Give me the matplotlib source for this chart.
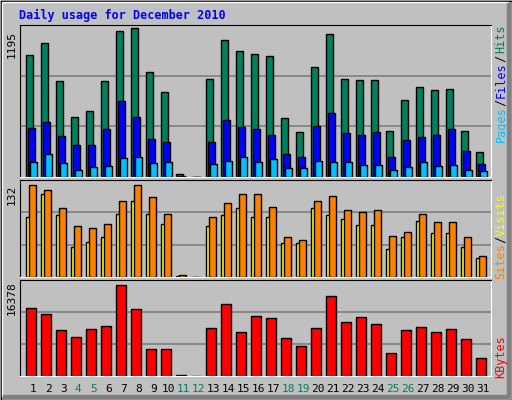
import matplotlib
matplotlib.use("Agg")
import matplotlib.pyplot as plt
from matplotlib.patches import Rectangle

days = list(range(1, 32))
hits = [976,1073,773,481,530,773,1171,1195,846,684,27,0,790,1098,1009,984,968,473,360,879,1147,790,781,781,368,619,725,700,708,368,197]
files = [392,441,327,254,254,384,611,481,303,279,11,0,279,457,400,384,335,181,157,408,514,352,335,360,157,295,319,335,384,206,108]
pages = [124,181,116,59,84,92,149,157,116,124,0,0,108,132,157,124,141,76,76,132,124,124,100,100,59,84,124,92,100,59,51]
visits = [131,125,99,73,70,76,109,132,115,90,3,0,86,106,118,119,100,57,53,109,116,96,93,96,59,65,90,79,79,57,30]
sites = [86,119,89,43,50,57,90,109,90,76,1,0,73,89,99,86,86,49,49,98,89,83,75,75,40,57,80,63,63,43,27]
kbytes = [12254,11178,8309,7053,8488,9026,16378,12074,4901,4901,239,0,8667,12971,7950,10819,10460,6874,5439,8667,14405,9743,10640,9384,4184,8309,8846,7950,8488,6695,3288]
weekends = [4,5,11,12,18,19,25,26]

W, H = 512, 400
fig = plt.figure(figsize=(W/100, H/100), dpi=100)
fig.patch.set_facecolor("#c0c0c0")
bg = fig.add_axes([0, 0, 1, 1]); bg.set_xlim(0, W); bg.set_ylim(H, 0); bg.axis("off")
bg.add_patch(Rectangle((0.5, 0.5), W-1, H-1, fill=False, ec="black", lw=1))
bg.add_patch(Rectangle((2, 2), W-6, H-6, fill=False, ec="white", lw=1))
bg.add_patch(Rectangle((W-5, 3), 3, H-6, color="#808080"))
bg.add_patch(Rectangle((3, H-5), W-6, 3, color="#808080"))

mono = "DejaVu Sans Mono"
fig.text(19/W, 1-15/H, "Daily usage for December 2010", color="#0000ff", family=mono,
         weight="bold", fontsize=8.5, va="center")

def panel(top, bot):
    ax = fig.add_axes([20/W, 1-bot/H, 471/W, (bot-top)/H])
    ax.set_facecolor("#c0c0c0")
    ax.set_xlim(0.12, 31.52)
    for s in ax.spines.values():
        s.set_color("black")
    ax.spines["bottom"].set_color("white"); ax.spines["right"].set_color("white")
    ax.set_xticks([]); ax.set_yticks([])
    return ax

def grid(ax, top):
    ax.set_ylim(0, top)
    for f in (1/3, 2/3):
        ax.axhline(top*f, color="#808080", lw=1.2, zorder=0)

kw = dict(align="edge", edgecolor="black", linewidth=1, zorder=2)
ax1 = panel(25, 177)
grid(ax1, 1195*150/147)
x = [d-0.5 for d in days]
ax1.bar(x, hits, width=0.47, color="#00805c", **kw)
ax1.bar([v+0.13 for v in x], files, width=0.5, color="#0000ff", **kw)
ax1.bar([v+0.27 for v in x], pages, width=0.47, color="#00c0ff", **kw)

ax2 = panel(180, 277)
grid(ax2, 132*290/276)
ax2.bar(x, sites, width=0.4, color="#ffff00", **kw)
ax2.bar([v+0.24 for v in x], visits, width=0.47, color="#ff8000", **kw)

ax3 = panel(280, 376)
grid(ax3, 16378*288/274)
ax3.bar([v+0.04 for v in x], kbytes, width=0.67, color="#ff0000", **kw)

for d in days:
    fig.text((20+(d-0.12)*15)/W, 1-389/H, str(d), family=mono, fontsize=8,
             ha="center", va="center", color="#00805c" if d in weekends else "black")

for y, s in [(45, "1195"), (195, "132"), (298, "16378")]:
    fig.text(12/W, 1-y/H, s, family=mono, fontsize=8, rotation=90, ha="center", va="center")

def rlabel(parts, ytop):
    y = ytop
    for s, c in parts:
        h = len(s)*5.5
        fig.text(501/W, 1-(y+h/2)/H, s, family=mono, fontsize=8.5,
                 rotation=90, ha="center", va="center", color=c)
        y += h
rlabel([("Hits", "#00805c"), (" / ", "black"), ("Files", "#0000ff"), (" / ", "black"), ("Pages", "#00c0ff")], 28)
rlabel([("Visits", "#ffff00"), (" / ", "black"), ("Sites", "#ff8000")], 198)
rlabel([("KBytes", "#ff0000")], 340)

fig.savefig("out.png", dpi=100, facecolor=fig.get_facecolor())
